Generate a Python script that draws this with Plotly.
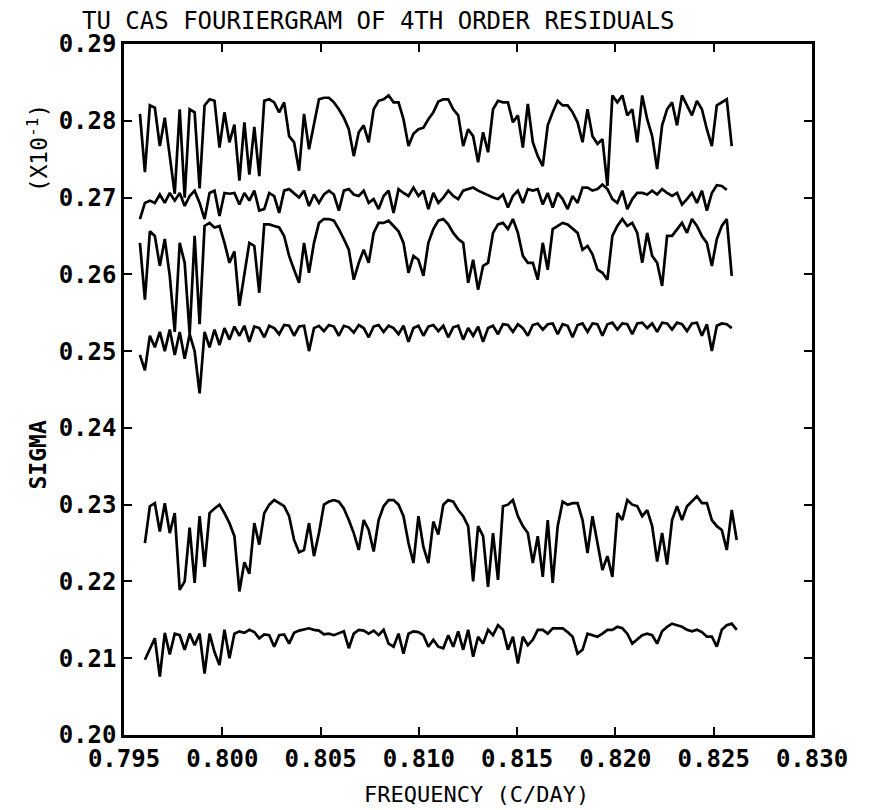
import plotly.graph_objects as go

# Frequency grid of the Fouriergram (c/day)
FREQ_START = 0.79581
FREQ_STEP = 0.000253

# Six sigma curves (x10^-1), top to bottom
sigma_a = [0.2809, 0.2733, 0.2820, 0.2817, 0.2767, 0.2804, 0.2754, 0.2705, 0.2815, 0.2700,
           0.2815, 0.2811, 0.2712, 0.2820, 0.2828, 0.2826, 0.2765, 0.2811, 0.2772, 0.2795,
           0.2722, 0.2798, 0.2730, 0.2792, 0.2728, 0.2826, 0.2828, 0.2824, 0.2811, 0.2824,
           0.2780, 0.2772, 0.2735, 0.2809, 0.2763, 0.2794, 0.2828, 0.2830, 0.2830, 0.2824,
           0.2815, 0.2804, 0.2789, 0.2754, 0.2785, 0.2794, 0.2772, 0.2815, 0.2826, 0.2828,
           0.2833, 0.2824, 0.2824, 0.2802, 0.2767, 0.2783, 0.2789, 0.2791, 0.2802, 0.2811,
           0.2825, 0.2828, 0.2828, 0.2815, 0.2807, 0.2767, 0.2789, 0.2780, 0.2746, 0.2785,
           0.2759, 0.2815, 0.2826, 0.2824, 0.2824, 0.2798, 0.2807, 0.2765, 0.2822, 0.2772,
           0.2754, 0.2741, 0.2794, 0.2811, 0.2826, 0.2820, 0.2820, 0.2811, 0.2798, 0.2772,
           0.2815, 0.2780, 0.2770, 0.2776, 0.2715, 0.2833, 0.2824, 0.2833, 0.2807, 0.2815,
           0.2772, 0.2833, 0.2802, 0.2780, 0.2737, 0.2794, 0.2815, 0.2824, 0.2794, 0.2833,
           0.2820, 0.2807, 0.2826, 0.2815, 0.2789, 0.2767, 0.2820, 0.2824, 0.2828, 0.2767]

sigma_b = [0.2672, 0.2693, 0.2696, 0.2693, 0.2704, 0.2693, 0.2706, 0.2696, 0.2706, 0.2689,
           0.2702, 0.2709, 0.2693, 0.2672, 0.2706, 0.2709, 0.2676, 0.2706, 0.2705, 0.2706,
           0.2691, 0.2706, 0.2696, 0.2709, 0.2683, 0.2685, 0.2706, 0.2702, 0.2680, 0.2709,
           0.2711, 0.2706, 0.2700, 0.2709, 0.2689, 0.2704, 0.2693, 0.2704, 0.2709, 0.2704,
           0.2683, 0.2709, 0.2711, 0.2704, 0.2702, 0.2709, 0.2693, 0.2698, 0.2685, 0.2702,
           0.2709, 0.2680, 0.2711, 0.2706, 0.2702, 0.2713, 0.2702, 0.2709, 0.2685, 0.2706,
           0.2693, 0.2700, 0.2709, 0.2702, 0.2698, 0.2709, 0.2711, 0.2713, 0.2709, 0.2706,
           0.2702, 0.2700, 0.2698, 0.2704, 0.2687, 0.2702, 0.2709, 0.2693, 0.2711, 0.2709,
           0.2711, 0.2691, 0.2706, 0.2687, 0.2706, 0.2698, 0.2685, 0.2702, 0.2693, 0.2713,
           0.2713, 0.2709, 0.2711, 0.2717, 0.2711, 0.2698, 0.2693, 0.2709, 0.2685, 0.2698,
           0.2706, 0.2706, 0.2704, 0.2709, 0.2704, 0.2711, 0.2706, 0.2702, 0.2706, 0.2691,
           0.2698, 0.2706, 0.2693, 0.2709, 0.2683, 0.2706, 0.2716, 0.2715, 0.2710]

sigma_c = [0.2641, 0.2567, 0.2656, 0.2650, 0.2611, 0.2646, 0.2598, 0.2525, 0.2641, 0.2615,
           0.2522, 0.2650, 0.2535, 0.2663, 0.2667, 0.2661, 0.2663, 0.2641, 0.2615, 0.2630,
           0.2559, 0.2600, 0.2641, 0.2637, 0.2576, 0.2665, 0.2665, 0.2663, 0.2661, 0.2650,
           0.2624, 0.2606, 0.2589, 0.2641, 0.2602, 0.2641, 0.2667, 0.2672, 0.2672, 0.2670,
           0.2659, 0.2646, 0.2632, 0.2593, 0.2615, 0.2632, 0.2615, 0.2654, 0.2667, 0.2667,
           0.2670, 0.2663, 0.2656, 0.2641, 0.2602, 0.2624, 0.2619, 0.2598, 0.2641, 0.2659,
           0.2670, 0.2672, 0.2665, 0.2654, 0.2646, 0.2641, 0.2589, 0.2619, 0.2580, 0.2611,
           0.2615, 0.2654, 0.2665, 0.2667, 0.2659, 0.2672, 0.2654, 0.2624, 0.2615, 0.2615,
           0.2593, 0.2641, 0.2606, 0.2659, 0.2663, 0.2667, 0.2665, 0.2659, 0.2654, 0.2632,
           0.2637, 0.2626, 0.2606, 0.2602, 0.2593, 0.2650, 0.2663, 0.2672, 0.2663, 0.2667,
           0.2654, 0.2615, 0.2654, 0.2624, 0.2615, 0.2585, 0.2650, 0.2650, 0.2659, 0.2667,
           0.2654, 0.2672, 0.2663, 0.2650, 0.2641, 0.2611, 0.2646, 0.2663, 0.2672, 0.2598]

sigma_d = [0.2495, 0.2475, 0.2520, 0.2505, 0.2525, 0.2500, 0.2528, 0.2495, 0.2525, 0.2490,
           0.2522, 0.2500, 0.2445, 0.2525, 0.2505, 0.2528, 0.2508, 0.2530, 0.2515, 0.2532,
           0.2520, 0.2533, 0.2512, 0.2532, 0.2530, 0.2518, 0.2533, 0.2530, 0.2522, 0.2534,
           0.2533, 0.2520, 0.2532, 0.2533, 0.2500, 0.2530, 0.2533, 0.2526, 0.2534, 0.2532,
           0.2520, 0.2533, 0.2531, 0.2524, 0.2534, 0.2530, 0.2518, 0.2532, 0.2534, 0.2525,
           0.2533, 0.2530, 0.2522, 0.2533, 0.2512, 0.2530, 0.2533, 0.2520, 0.2532, 0.2534,
           0.2526, 0.2533, 0.2518, 0.2531, 0.2533, 0.2515, 0.2530, 0.2520, 0.2532, 0.2512,
           0.2530, 0.2533, 0.2522, 0.2535, 0.2534, 0.2525, 0.2535, 0.2530, 0.2520, 0.2534,
           0.2536, 0.2528, 0.2535, 0.2536, 0.2522, 0.2535, 0.2533, 0.2518, 0.2534, 0.2536,
           0.2525, 0.2536, 0.2535, 0.2520, 0.2535, 0.2537, 0.2528, 0.2536, 0.2535, 0.2522,
           0.2536, 0.2537, 0.2530, 0.2536, 0.2525, 0.2537, 0.2536, 0.2528, 0.2537, 0.2535,
           0.2526, 0.2536, 0.2537, 0.2520, 0.2535, 0.2500, 0.2533, 0.2536, 0.2535, 0.2530]

sigma_e = [None, 0.2250, 0.2298, 0.2302, 0.2265, 0.2302, 0.2263, 0.2289, 0.2189, 0.2200,
           0.2270, 0.2198, 0.2285, 0.2219, 0.2289, 0.2295, 0.2300, 0.2289, 0.2276, 0.2259,
           0.2187, 0.2225, 0.2210, 0.2276, 0.2248, 0.2289, 0.2300, 0.2306, 0.2302, 0.2298,
           0.2285, 0.2254, 0.2238, 0.2241, 0.2276, 0.2233, 0.2263, 0.2300, 0.2304, 0.2306,
           0.2304, 0.2295, 0.2280, 0.2263, 0.2241, 0.2280, 0.2267, 0.2239, 0.2280, 0.2298,
           0.2306, 0.2306, 0.2300, 0.2285, 0.2250, 0.2224, 0.2285, 0.2245, 0.2224, 0.2278,
           0.2261, 0.2300, 0.2306, 0.2304, 0.2293, 0.2285, 0.2272, 0.2200, 0.2272, 0.2259,
           0.2193, 0.2263, 0.2202, 0.2298, 0.2300, 0.2306, 0.2285, 0.2272, 0.2263, 0.2224,
           0.2259, 0.2206, 0.2280, 0.2198, 0.2272, 0.2304, 0.2300, 0.2302, 0.2302, 0.2280,
           0.2237, 0.2285, 0.2250, 0.2215, 0.2233, 0.2206, 0.2289, 0.2280, 0.2306, 0.2300,
           0.2298, 0.2285, 0.2293, 0.2272, 0.2226, 0.2263, 0.2222, 0.2280, 0.2298, 0.2280,
           0.2298, 0.2304, 0.2311, 0.2302, 0.2302, 0.2280, 0.2272, 0.2267, 0.2241, 0.2293,
           0.2254]

sigma_f = [None, 0.2098, 0.2111, 0.2126, 0.2076, 0.2133, 0.2105, 0.2132, 0.2130, 0.2111,
           0.2132, 0.2117, 0.2132, 0.2080, 0.2132, 0.2108, 0.2091, 0.2137, 0.2100, 0.2132,
           0.2135, 0.2133, 0.2137, 0.2134, 0.2126, 0.2131, 0.2130, 0.2115, 0.2130, 0.2131,
           0.2119, 0.2133, 0.2136, 0.2138, 0.2139, 0.2137, 0.2136, 0.2131, 0.2132, 0.2130,
           0.2132, 0.2135, 0.2113, 0.2132, 0.2137, 0.2136, 0.2132, 0.2136, 0.2130, 0.2137,
           0.2119, 0.2115, 0.2132, 0.2106, 0.2132, 0.2135, 0.2134, 0.2130, 0.2115, 0.2124,
           0.2115, 0.2113, 0.2130, 0.2115, 0.2135, 0.2111, 0.2137, 0.2102, 0.2128, 0.2119,
           0.2137, 0.2130, 0.2143, 0.2137, 0.2111, 0.2128, 0.2093, 0.2128, 0.2117, 0.2124,
           0.2137, 0.2137, 0.2132, 0.2139, 0.2139, 0.2139, 0.2134, 0.2128, 0.2106, 0.2111,
           0.2132, 0.2130, 0.2128, 0.2132, 0.2137, 0.2137, 0.2141, 0.2139, 0.2132, 0.2119,
           0.2124, 0.2130, 0.2132, 0.2130, 0.2119, 0.2135, 0.2141, 0.2145, 0.2143, 0.2141,
           0.2137, 0.2135, 0.2137, 0.2134, 0.2128, 0.2128, 0.2115, 0.2137, 0.2143, 0.2145,
           0.2137]

x_ticks = [0.795, 0.800, 0.805, 0.810, 0.815, 0.820, 0.825, 0.830]
x_tick_labels = ["0.795", "0.800", "0.805", "0.810", "0.815", "0.820", "0.825", "0.830"]
y_ticks = [0.20, 0.21, 0.22, 0.23, 0.24, 0.25, 0.26, 0.27, 0.28, 0.29]
y_tick_labels = ["0.20", "0.21", "0.22", "0.23", "0.24", "0.25", "0.26", "0.27", "0.28", "0.29"]

FONT = "DejaVu Sans Mono"

fig = go.Figure()
for series in [sigma_a, sigma_b, sigma_c, sigma_d, sigma_e, sigma_f]:
    freqs = [FREQ_START + FREQ_STEP * i for i in range(len(series))]
    fig.add_trace(go.Scatter(x=freqs, y=series, mode="lines",
                             line=dict(color="black", width=2.7),
                             showlegend=False, hoverinfo="skip"))

# the page adds an 8 px body margin, so the figure is drawn 8 px smaller
fig.update_layout(
    width=861, height=802,
    margin=dict(l=116, r=57, t=36, b=75),
    paper_bgcolor="white", plot_bgcolor="white",
    font=dict(family=FONT, color="black", size=24),
    showlegend=False,
)
tick_font = dict(family=FONT, size=24, weight="bold")
fig.update_xaxes(range=[0.795, 0.830], tickvals=x_ticks, ticktext=x_tick_labels,
                 showgrid=False, zeroline=False, showline=True, linecolor="black",
                 linewidth=2.5, mirror="allticks", ticks="inside", ticklen=8,
                 tickwidth=2, tickcolor="black", tickfont=tick_font)
fig.update_yaxes(range=[0.20, 0.29], tickvals=y_ticks, ticktext=y_tick_labels,
                 showgrid=False, zeroline=False, showline=True, linecolor="black",
                 linewidth=2.5, mirror="allticks", ticks="inside", ticklen=8,
                 tickwidth=2, tickcolor="black", tickfont=tick_font)

fig.add_annotation(text="TU CAS FOURIERGRAM OF 4TH ORDER RESIDUALS", xref="paper", yref="paper",
                   x=0.369, y=1.034, xanchor="center", yanchor="middle", showarrow=False,
                   font=dict(family=FONT, size=24))
fig.add_annotation(text="SIGMA", xref="paper", yref="paper", x=-0.125, y=0.4045,
                   xanchor="center", yanchor="middle", textangle=-90, showarrow=False,
                   font=dict(family=FONT, size=23, weight="bold"))
fig.add_annotation(text="(X10<sup>-1</sup>)", xref="paper", yref="paper", x=-0.125, y=0.849,
                   xanchor="center", yanchor="middle", textangle=-90, showarrow=False,
                   font=dict(family=FONT, size=23))
fig.add_annotation(text="FREQUENCY (C/DAY)", xref="paper", yref="paper", x=0.513, y=-0.0854,
                   xanchor="center", yanchor="middle", showarrow=False,
                   font=dict(family=FONT, size=22))

fig.write_html("out.html")
